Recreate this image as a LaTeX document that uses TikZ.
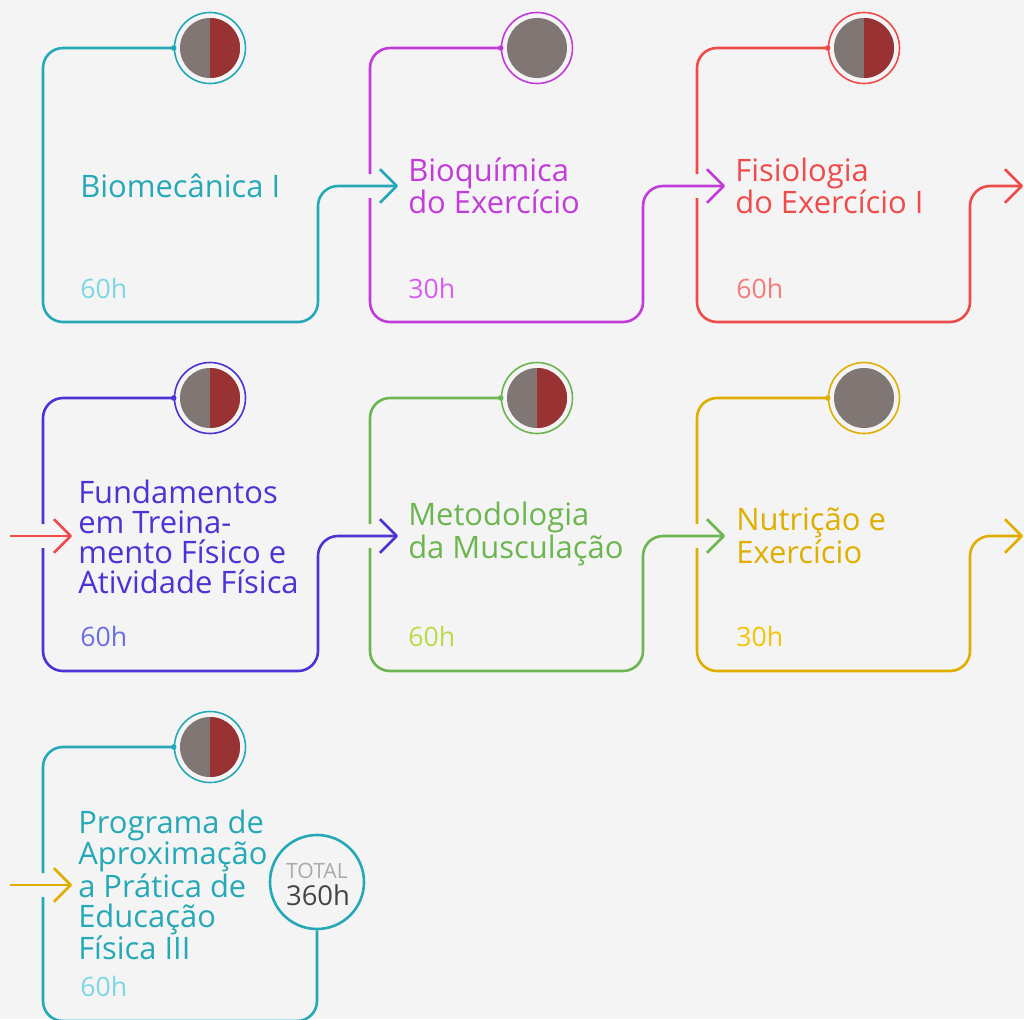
\documentclass[tikz,border=0pt]{standalone}
\usepackage{fontspec}
\setmainfont{Open Sans}
\usetikzlibrary{arrows.meta,positioning}
\definecolor{bgcol}{HTML}{F4F4F4}
\definecolor{cteal}{HTML}{26A9B6}
\definecolor{hteal}{HTML}{7DD8E3}
\definecolor{cpurple}{HTML}{C23CD9}
\definecolor{hpurple}{HTML}{D660EE}
\definecolor{cred}{HTML}{EE4B4B}
\definecolor{hred}{HTML}{F47C7C}
\definecolor{cindigo}{HTML}{4B33D4}
\definecolor{hindigo}{HTML}{6B70E0}
\definecolor{cgreen}{HTML}{6CB550}
\definecolor{hgreen}{HTML}{BBDB48}
\definecolor{cgold}{HTML}{E0AE00}
\definecolor{hgold}{HTML}{F2C40A}
\definecolor{icongray}{HTML}{807775}
\definecolor{iconred}{HTML}{993333}
\definecolor{totgray}{HTML}{AAAAAA}
\definecolor{totdark}{HTML}{444444}
\newcommand{\cardwidth}{0.65mm}
\newcommand{\rin}{7.5mm}

\tikzset{
  cardline/.style={line width=\cardwidth, rounded corners=5mm, line join=round},
  arrowline/.style={cardline, -{Straight Barb[length=4.2mm,width=8.4mm,line join=round]}},
  ring/.style={circle, line width=0.4mm, minimum size=17.75mm, inner sep=0pt},
  title/.style={anchor=west, align=left, inner sep=0pt, font=\fontsize{22pt}{21.3pt}\selectfont},
  hours/.style={anchor=west, inner sep=0pt, font=\fontsize{19pt}{19pt}\selectfont},
}

\begin{document}
\begin{tikzpicture}[x=0.25mm, y=-0.25mm]
\fill[bgcol] (0,0) rectangle (1024,1019);
\useasboundingbox (0,0) rectangle (1024,1019);
%icons
\node[ring, draw=cteal] (i1) at (210,48) {};
\node[ring, draw=cpurple] (i2) at (537,48) {};
\node[ring, draw=cred] (i3) at (864,48) {};
\node[ring, draw=cindigo] (i4) at (210,398) {};
\node[ring, draw=cgreen] (i5) at (537,398) {};
\node[ring, draw=cgold] (i6) at (864,398) {};
\node[ring, draw=cteal] (i7) at (210,747) {};
\fill[icongray] (i1.center) circle (\rin);
\fill[icongray] (i2.center) circle (\rin);
\fill[icongray] (i3.center) circle (\rin);
\fill[icongray] (i4.center) circle (\rin);
\fill[icongray] (i5.center) circle (\rin);
\fill[icongray] (i6.center) circle (\rin);
\fill[icongray] (i7.center) circle (\rin);
\fill[iconred] (i1.center) ++(0,\rin) arc[start angle=90, end angle=-90, radius=\rin] -- cycle;
\fill[iconred] (i3.center) ++(0,\rin) arc[start angle=90, end angle=-90, radius=\rin] -- cycle;
\fill[iconred] (i4.center) ++(0,\rin) arc[start angle=90, end angle=-90, radius=\rin] -- cycle;
\fill[iconred] (i5.center) ++(0,\rin) arc[start angle=90, end angle=-90, radius=\rin] -- cycle;
\fill[iconred] (i7.center) ++(0,\rin) arc[start angle=90, end angle=-90, radius=\rin] -- cycle;
\fill[cteal] (i1.west) circle (0.7mm);
\fill[cpurple] (i2.west) circle (0.7mm);
\fill[cred] (i3.west) circle (0.7mm);
\fill[cindigo] (i4.west) circle (0.7mm);
\fill[cgreen] (i5.west) circle (0.7mm);
\fill[cgold] (i6.west) circle (0.7mm);
\fill[cteal] (i7.west) circle (0.7mm);
%arrow ends
\coordinate (a1) at (398,186);
\coordinate (a2) at (725,186);
\coordinate (a3) at (1023,186);
\coordinate (b3) at (10,536);
\coordinate (e4) at (72,536);
\coordinate (a4) at (398,536);
\coordinate (a5) at (725,536);
\coordinate (a6) at (1023,536);
\coordinate (b6) at (10,885);
\coordinate (e7) at (72,885);
%cards
\draw[arrowline, cteal] (i1.west) -| (43,322) -| (318,186) -- (a1);
\draw[arrowline, cpurple] (i2.west) -| (370,174) (370,198) |- (643,322) |- (a2);
\draw[arrowline, cred] (i3.west) -| (697,174) (697,198) |- (970,322) |- (a3);
\draw[arrowline, cred] (b3) -- (e4);
\draw[arrowline, cindigo] (i4.west) -| (43,524) (43,548) |- (318,671) |- (a4);
\draw[arrowline, cgreen] (i5.west) -| (370,524) (370,548) |- (643,671) |- (a5);
\draw[arrowline, cgold] (i6.west) -| (697,524) (697,548) |- (970,671) |- (a6);
\draw[arrowline, cgold] (b6) -- (e7);
%titles
\node[title, text=cteal] (t1) at (80,186) {Biomecânica I};
\node[title, text=cpurple] (t2) at (408,186) {Bioquímica\\do Exercício};
\node[title, text=cred] (t3) at (735,186) {Fisiologia\\do Exercício I};
\node[title, text=cindigo] (t4) at (78,537) {Fundamentos\\em Treina-\\mento Físico e\\Atividade Física};
\node[title, text=cgreen] (t5) at (408,534) {Metodologia\\da Musculação};
\node[title, text=cgold] (t6) at (736,536) {Nutrição e\\Exercício};
\node[title, text=cteal] (t7) at (78,885) {Programa de\\Aproximação\\a Prática de\\Educação\\Física III};
%hours
\node[hours, text=hteal] (h1) at (80,288) {60h};
\node[hours, text=hpurple] (h2) at (408,288) {30h};
\node[hours, text=hred] (h3) at (736,288) {60h};
\node[hours, text=hindigo] (h4) at (80,636) {60h};
\node[hours, text=hgreen] (h5) at (408,636) {60h};
\node[hours, text=hgold] (h6) at (736,636) {30h};
\node[hours, text=hteal] (h7) at (80,986) {60h};
%total
\node[circle, draw=cteal, fill=bgcol, line width=\cardwidth, minimum size=23.5mm, inner sep=0pt] (tot) at (317,882) {};
\node[inner sep=0pt, text=totgray, font=\fontsize{15pt}{15pt}\selectfont] (totlabel) at (317,871) {TOTAL};
\node[inner sep=0pt, text=totdark, font=\fontsize{19.5pt}{19.5pt}\selectfont] (totval) at (318,895) {360h};
\draw[cardline, cteal] (i7.west) -| (43,873) (43,897) |- (317,1021) -- (tot.south);
\end{tikzpicture}
\end{document}
